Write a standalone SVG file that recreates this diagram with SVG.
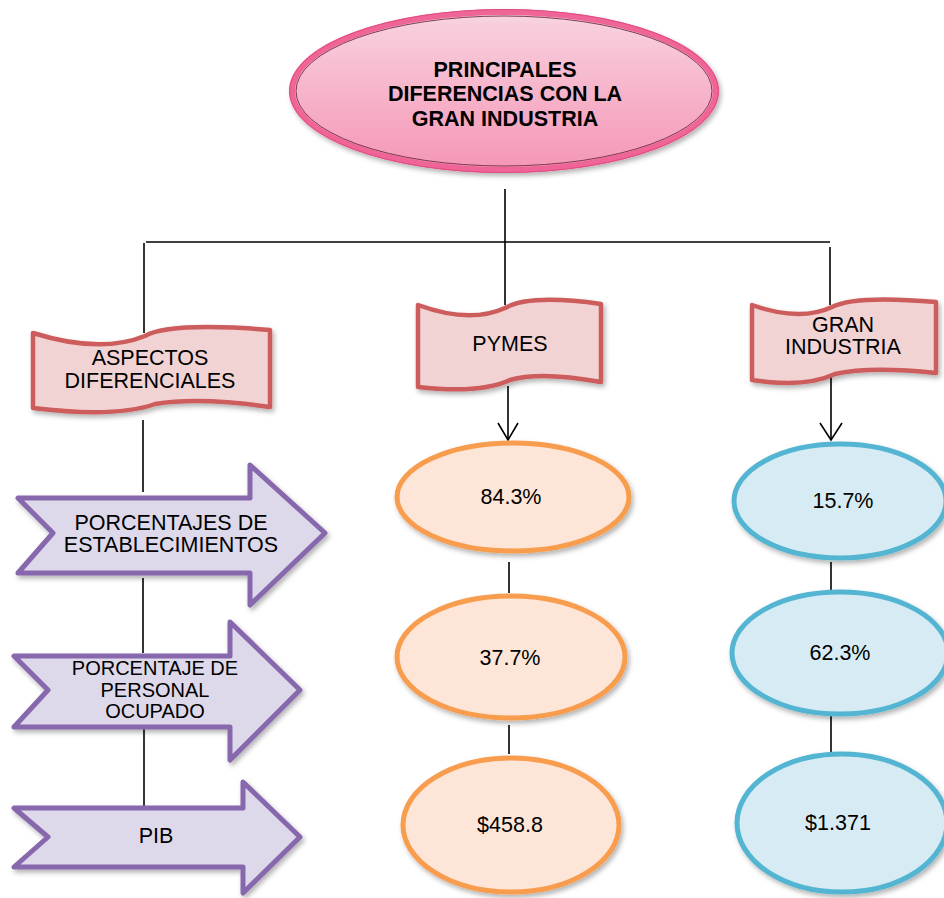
<svg xmlns="http://www.w3.org/2000/svg" width="944" height="898" viewBox="0 0 944 898">
<defs>
<linearGradient id="gTitle" x1="0" y1="0" x2="0" y2="1">
<stop offset="0" stop-color="#F8D3E0"/>
<stop offset="1" stop-color="#F596B6"/>
</linearGradient>
<filter id="sh" x="-10%" y="-10%" width="125%" height="130%">
<feDropShadow dx="2" dy="3" stdDeviation="2.5" flood-color="#000" flood-opacity="0.3"/>
</filter>
<style>
.t{font-family:"Liberation Sans",Arial,sans-serif;font-size:21.5px;fill:#000;text-anchor:middle}
.ts{font-family:"Liberation Sans",Arial,sans-serif;font-size:20px;fill:#000;text-anchor:middle}
.tb{font-family:"Liberation Sans",Arial,sans-serif;font-size:21.5px;font-weight:bold;fill:#000;text-anchor:middle}
.ban{fill:#F2D3D4;stroke:#CD5B5B;stroke-width:4.5;stroke-linejoin:round;filter:url(#sh)}
.arw{fill:#DDD9EA;stroke:#8767AC;stroke-width:5;stroke-linejoin:round;filter:url(#sh)}
.eo{fill:#FDE5D7;stroke:#F89C4E;stroke-width:5;filter:url(#sh)}
.eb{fill:#D6EBF4;stroke:#52B5D2;stroke-width:5;filter:url(#sh)}
.ln{stroke:#000;stroke-width:1.6;fill:none}
</style>
</defs>
<rect width="944" height="898" fill="#fff"/>

<g id="connectors">
<line class="ln" x1="505" y1="189" x2="505" y2="305"/>
<line class="ln" x1="146" y1="242" x2="830" y2="242"/>
<line class="ln" x1="144" y1="243" x2="144" y2="333"/>
<line class="ln" x1="830" y1="247" x2="830" y2="305"/>
<line class="ln" x1="143" y1="420" x2="143" y2="492"/>
<line class="ln" x1="143" y1="578" x2="143" y2="653"/>
<line class="ln" x1="144" y1="727" x2="144" y2="807"/>
<line class="ln" x1="508" y1="386" x2="508" y2="440"/>
<path class="ln" d="M498,423 L508,440 L518,423" stroke-width="1.8"/>
<line class="ln" x1="831" y1="376" x2="831" y2="440"/>
<path class="ln" d="M820,423 L831,440 L842,423" stroke-width="1.8"/>
<line class="ln" x1="509" y1="562" x2="509" y2="593"/>
<line class="ln" x1="509" y1="725" x2="509" y2="754"/>
<line class="ln" x1="831" y1="562" x2="831" y2="592"/>
<line class="ln" x1="831" y1="715" x2="831" y2="753"/>
</g>

<g id="title">
<ellipse cx="504" cy="91" rx="212" ry="79" fill="url(#gTitle)" stroke="#F06597" stroke-width="6" filter="url(#sh)"/>
<ellipse cx="504" cy="91" rx="208" ry="75" fill="none" stroke="#6E2C42" stroke-width="0.9"/>
<ellipse cx="504" cy="91" rx="214.5" ry="81.5" fill="none" stroke="#E04C80" stroke-width="1"/>
<text class="tb" x="505" y="77">PRINCIPALES</text>
<text class="tb" x="505" y="101">DIFERENCIAS CON LA</text>
<text class="tb" x="505" y="126">GRAN INDUSTRIA</text>
</g>

<g id="aspectos">
<path class="ban" d="M33,333 Q100,354 145,336 Q170,322 270,330 L270,407 Q200,397 155,404 Q115,418 33,408 Z"/>
<text class="t" x="150" y="365">ASPECTOS</text>
<text class="t" x="150" y="388">DIFERENCIALES</text>
</g>

<g id="pymes">
<path class="ban" d="M418,305 Q470,324 505,308 Q530,294 601,304 L601,382 Q540,371 510,380 Q480,394 418,387 Z"/>
<text class="t" x="510" y="351">PYMES</text>
</g>

<g id="gran">
<path class="ban" d="M752,305 Q800,322 832,307 Q855,295 936,302 L936,373 Q870,366 835,374 Q805,388 752,380 Z"/>
<text class="t" x="843" y="332">GRAN</text>
<text class="t" x="843" y="354">INDUSTRIA</text>
</g>

<g id="arrow-establecimientos">
<path class="arw" d="M18,498 L250,498 L250,465 L325,533 L250,605 L250,573 L18,573 L53,533 Z"/>
<text class="t" x="171" y="530">PORCENTAJES DE</text>
<text class="t" x="171" y="552">ESTABLECIMIENTOS</text>
</g>

<g id="arrow-personal">
<path class="arw" d="M14,656 L230,656 L230,622 L300,690 L230,760 L230,727 L14,727 L48,690 Z"/>
<text class="ts" x="155" y="675">PORCENTAJE DE</text>
<text class="ts" x="155" y="697">PERSONAL</text>
<text class="ts" x="155" y="718">OCUPADO</text>
</g>

<g id="arrow-pib">
<path class="arw" d="M14,808 L243,808 L243,782 L300,837 L243,893 L243,867 L14,867 L48,837 Z"/>
<text class="t" x="156" y="843">PIB</text>
</g>

<g id="pymes-1">
<ellipse class="eo" cx="513" cy="497" rx="116" ry="54"/>
<text class="t" x="511" y="504">84.3%</text>
</g>
<g id="pymes-2">
<ellipse class="eo" cx="511" cy="657" rx="114" ry="61"/>
<text class="t" x="510" y="665">37.7%</text>
</g>
<g id="pymes-3">
<ellipse class="eo" cx="511" cy="825" rx="108" ry="67"/>
<text class="t" x="510" y="832">$458.8</text>
</g>

<g id="gran-1">
<ellipse class="eb" cx="840" cy="501" rx="106" ry="57"/>
<text class="t" x="843" y="508">15.7%</text>
</g>
<g id="gran-2">
<ellipse class="eb" cx="840" cy="653" rx="108" ry="61"/>
<text class="t" x="840" y="660">62.3%</text>
</g>
<g id="gran-3">
<ellipse class="eb" cx="842" cy="823" rx="105" ry="69"/>
<text class="t" x="838" y="830">$1.371</text>
</g>
</svg>
